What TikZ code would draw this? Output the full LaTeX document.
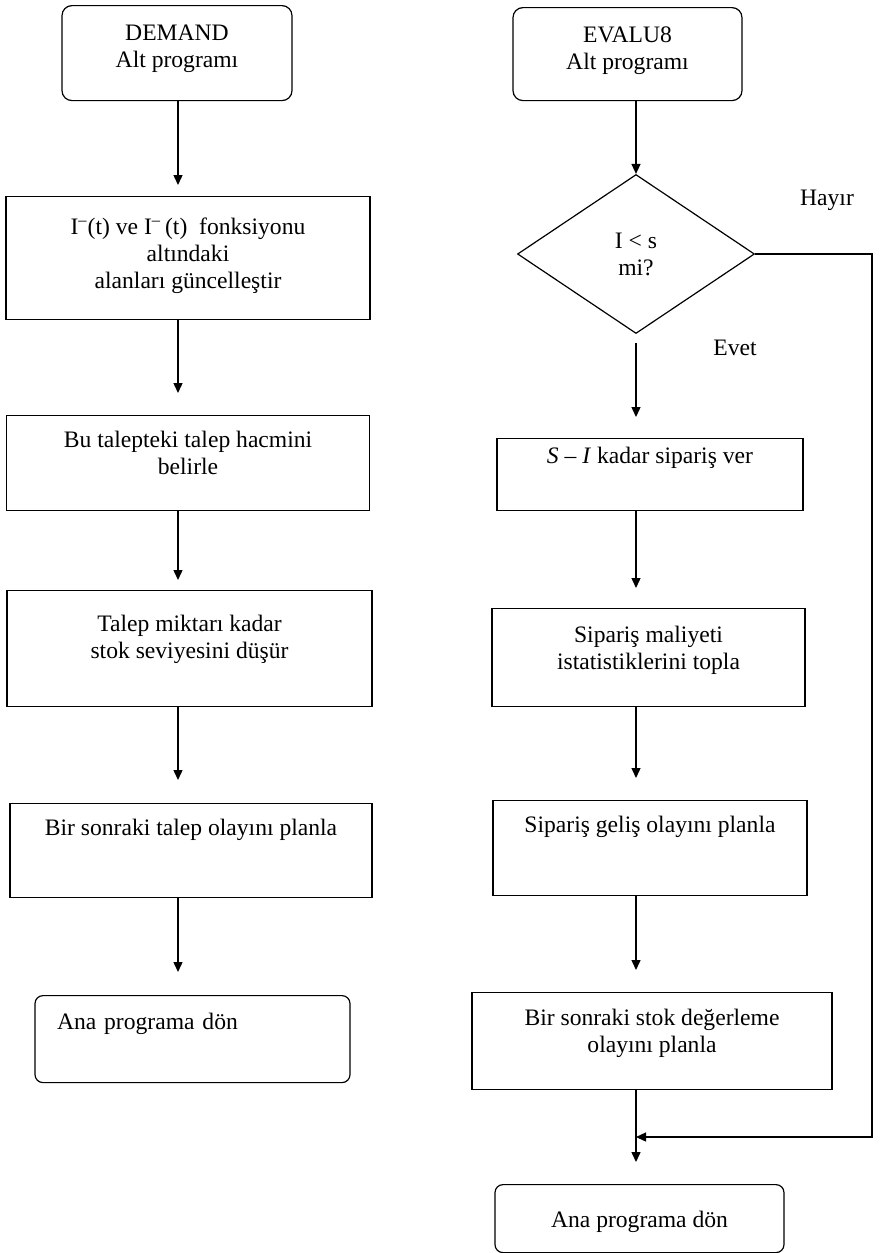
\documentclass[tikz,border=0pt]{standalone}
\usepackage{fontspec}
\setmainfont{Liberation Serif}
\usetikzlibrary{shapes.geometric,arrows.meta}

\tikzset{
  kutu/.style 2 args={draw,line width=0.6pt,anchor=north,inner ysep=0pt,align=center,
                      text height=#1,text depth=#2},
  karar/.style={draw,line width=0.6pt,diamond,inner sep=0pt,align=center,
                minimum width=118.5pt,minimum height=79.5pt},
  ok/.style={line width=0.7pt,-{Triangle[length=5pt,width=4.5pt]}}
}

\begin{document}
\begin{tikzpicture}[font=\fontsize{11.8pt}{13.5pt}\selectfont]
    \begin{scope}[x=0.5pt,y=-0.5pt]
      \useasboundingbox (0,0) rectangle (879,1253);
      \coordinate (lc) at (178,0);
      \coordinate (rc) at (636,0);
      % sol sutun: DEMAND
      \node[kutu={31pt}{16.5pt},rounded corners=5pt,minimum width=115pt] (demand) at (177,5)
        {DEMAND\\Alt programı};
      \node[kutu={46pt}{15.5pt},minimum width=182pt] (alan) at (188,196)
        {I\textsuperscript{--}(t) ve I\textsuperscript{--}\,(t)\ \ fonksiyonu\\altındaki\\alanları güncelleştir};
      \node[kutu={29.5pt}{18pt},minimum width=181.5pt] (hacim) at (188,415)
        {Bu talepteki talep hacmini\\belirle};
      \node[kutu={34pt}{24pt},minimum width=182.5pt] (stok) at (189.5,590)
        {Talep miktarı kadar\\stok seviyesini düşür};
      \node[kutu={16pt}{31pt},minimum width=181pt] (plan) at (191,803)
        {Bir sonraki talep olayını planla};
      \node[kutu={17pt}{26.5pt},rounded corners=4pt,text width=135.5pt,inner xsep=11pt,align=left] (donA) at (192.5,995)
        {Ana programa dön};
      \foreach \a/\b/\g in {demand/alan/5.5, alan/hacim/11, hacim/stok/5, stok/plan/11.5, plan/donA/11.5}
        {\draw[ok,shorten >=\g pt] (\a.south -| lc) -- (\b.north -| lc);}
      % sag sutun: EVALU8
      \node[kutu={31pt}{15.5pt},rounded corners=5pt,minimum width=114.5pt] (evalu8) at (627.5,7)
        {EVALU8\\Alt programı};
      \node[karar] (kosul) at (636,254) {I < s\\mi?};
      \node[kutu={12.5pt}{23.5pt},minimum width=153pt] (siparis) at (650,438)
        {\textit{S} -- \textit{I} kadar sipariş ver};
      \node[kutu={30.5pt}{18.5pt},minimum width=156.5pt] (maliyet) at (648.5,608)
        {Sipariş maliyeti\\istatistiklerini topla};
      \node[kutu={16pt}{31.5pt},minimum width=157pt] (gelis) at (650,800)
        {Sipariş geliş olayını planla};
      \node[kutu={30pt}{18.5pt},minimum width=180pt] (degerle) at (652,992)
        {Bir sonraki stok değerleme\\olayını planla};
      \node[kutu={21.5pt}{12.5pt},rounded corners=4pt,minimum width=144.5pt] (donB) at (639.5,1184)
        {Ana programa dön};
      \node (hayir) at (827,200) {Hayır};
      \node (evet) at (735,348) {Evet};
      \draw[ok] (evalu8.south -| rc) -- (kosul.north);
      \draw[ok,shorten <=4.5pt,shorten >=10.5pt] (kosul.south) -- (siparis.north -| rc);
      \foreach \a/\b/\g in {siparis/maliyet/10, maliyet/gelis/11, gelis/degerle/11, degerle/donB/11}
        {\draw[ok,shorten >=\g pt] (\a.south -| rc) -- (\b.north -| rc);}
      % Hayir yolu
      \coordinate (donus) at (872,1137);
      \draw[ok] (kosul.east) -| (donus) -- (donus -| rc);
    \end{scope}
  \end{tikzpicture}
\end{document}
